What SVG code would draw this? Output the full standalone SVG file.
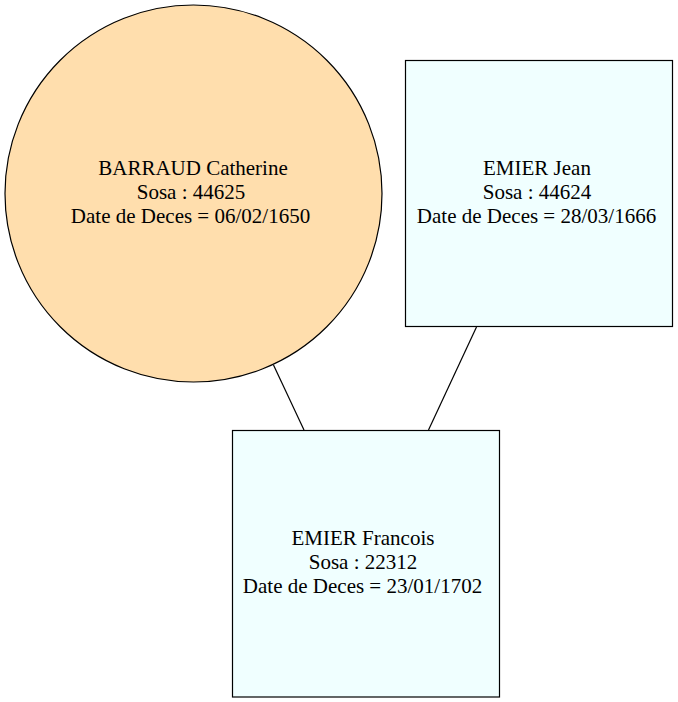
<svg xmlns="http://www.w3.org/2000/svg" width="678" height="702" viewBox="0 0 678 702">
<style>
.n{stroke:#000;stroke-width:1.2}
.c{fill:#ffdead}
.s{fill:#f0ffff}
text{font-family:"Liberation Serif","Times New Roman",serif;font-size:21px;fill:#000;text-anchor:middle}
.e{stroke:#000;stroke-width:1.2;fill:none}
</style>
<rect width="678" height="702" fill="#fff"/>
<g id="edges">
<line class="e" x1="273.5" y1="365" x2="304" y2="430"/>
<line class="e" x1="476.5" y1="327" x2="428.5" y2="430"/>
</g>
<g id="barraud">
<circle class="n c" cx="193.5" cy="193.5" r="188.5"/>
<text x="193" y="175">BARRAUD Catherine</text>
<text x="191" y="199">Sosa : 44625</text>
<text x="190.5" y="223">Date de Deces = 06/02/1650</text>
</g>
<g id="emier_jean">
<rect class="n s" x="405.5" y="60.5" width="267" height="266"/>
<text x="537" y="175">EMIER Jean</text>
<text x="537" y="199">Sosa : 44624</text>
<text x="536.5" y="223">Date de Deces = 28/03/1666</text>
</g>
<g id="emier_francois">
<rect class="n s" x="232.5" y="430.5" width="267" height="266.5"/>
<text x="363" y="545">EMIER Francois</text>
<text x="363" y="569">Sosa : 22312</text>
<text x="362.5" y="593">Date de Deces = 23/01/1702</text>
</g>
</svg>
